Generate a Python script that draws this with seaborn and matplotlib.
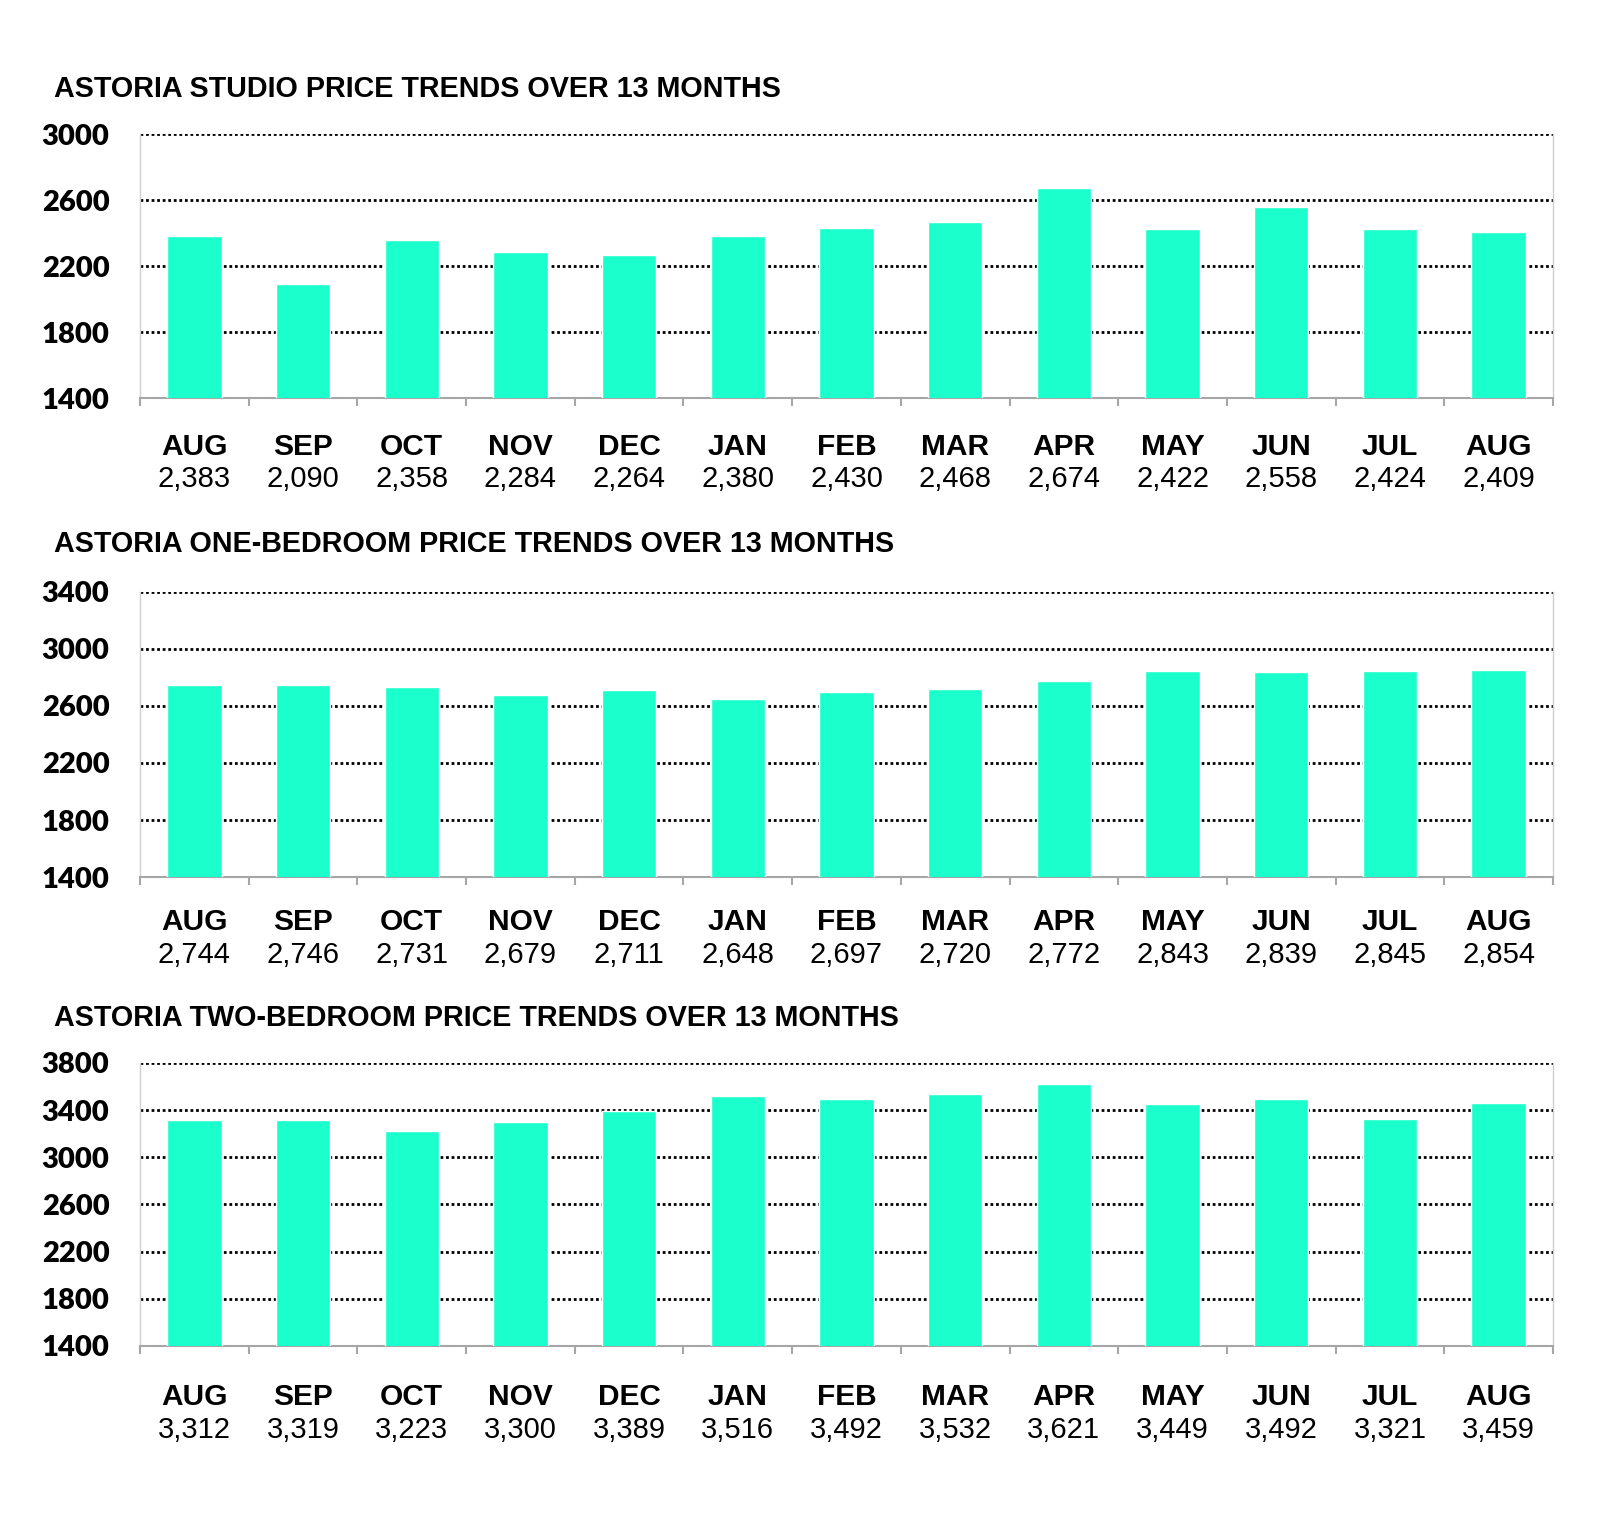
import numpy as np
import pandas as pd
import matplotlib
matplotlib.use("Agg")
import matplotlib.pyplot as plt
import seaborn as sns

months = ["AUG", "SEP", "OCT", "NOV", "DEC", "JAN", "FEB", "MAR", "APR", "MAY", "JUN", "JUL", "AUG"]
studio = [2383, 2090, 2358, 2284, 2264, 2380, 2430, 2468, 2674, 2422, 2558, 2424, 2409]
one_bed = [2744, 2746, 2731, 2679, 2711, 2648, 2697, 2720, 2772, 2843, 2839, 2845, 2854]
two_bed = [3312, 3319, 3223, 3300, 3389, 3516, 3492, 3532, 3621, 3449, 3492, 3321, 3459]

titles = ["ASTORIA STUDIO PRICE TRENDS OVER 13 MONTHS",
          "ASTORIA ONE-BEDROOM PRICE TRENDS OVER 13 MONTHS",
          "ASTORIA TWO-BEDROOM PRICE TRENDS OVER 13 MONTHS"]
yticks_list = [[1400, 1800, 2200, 2600, 3000],
               [1400, 1800, 2200, 2600, 3000, 3400],
               [1400, 1800, 2200, 2600, 3000, 3400, 3800]]
series = [studio, one_bed, two_bed]

BAR = "#1AFFCC"

sns.set_theme(style="white")
plt.rcParams["font.family"] = ["Liberation Sans", "DejaVu Sans"]

fig = plt.figure(figsize=(16, 15.21), dpi=100)

# [left, bottom, width, height] in figure fraction
positions = [
    [0.0875, 0.7383, 0.8831, 0.1736],
    [0.0875, 0.4234, 0.8831, 0.1874],
    [0.0875, 0.1151, 0.8831, 0.1861],
]
title_y = [1 - 89 / 1521, 1 - 544 / 1521, 1 - 1018 / 1521]
month_off = [-35.5, -32.5, -37]
value_off = [-58, -56.5, -60.5]

for k in range(3):
    ax = fig.add_axes(positions[k])
    df = pd.DataFrame({"idx": [str(i) for i in range(13)], "value": series[k]})
    sns.barplot(data=df, x="idx", y="value", order=df["idx"].tolist(),
                color=BAR, saturation=1, width=0.5, ax=ax, zorder=3)
    yt = yticks_list[k]
    ax.set_ylim(yt[0], yt[-1])
    ax.set_xlim(-0.5, 12.5)
    ax.set_yticks(yt)
    ax.set_yticklabels([str(v) for v in yt], fontfamily="Lato", fontweight="heavy",
                       fontsize=21, color="black")
    ax.tick_params(axis="y", length=0, pad=22)
    for v in yt[1:]:
        ax.axhline(v, color="black", linestyle=(0, (1, 1.0)), linewidth=2, zorder=1)
    ax.set_xlabel("")
    ax.set_ylabel("")
    ax.set_xticks(np.arange(-0.5, 13.0, 1.0))
    ax.set_xticklabels([])
    ax.tick_params(axis="x", length=6, width=1.5, color="#A6A6A6", direction="out", bottom=True)
    ax.spines["top"].set_visible(False)
    ax.spines["bottom"].set_color("#A6A6A6")
    ax.spines["bottom"].set_linewidth(1.5)
    ax.spines["left"].set_color("#D0D0D0")
    ax.spines["left"].set_linewidth(1)
    ax.spines["right"].set_color("#D0D0D0")
    ax.spines["right"].set_linewidth(1)
    trans = ax.get_xaxis_transform()
    for i, (m, v) in enumerate(zip(months, series[k])):
        ax.annotate(m, xy=(i, 0), xycoords=trans, xytext=(0, month_off[k]),
                    textcoords="offset points", ha="center", va="center",
                    fontsize=21.5, fontweight="bold", color="black")
        ax.annotate(f"{v:,}", xy=(i, 0), xycoords=trans, xytext=(0, value_off[k]),
                    textcoords="offset points", ha="center", va="center",
                    fontsize=21, color="black")
    fig.text(54 / 1600, title_y[k], titles[k], ha="left", va="center",
             fontsize=20.7, fontweight="bold", color="black")

fig.savefig("out.png", dpi=100, facecolor="white")
